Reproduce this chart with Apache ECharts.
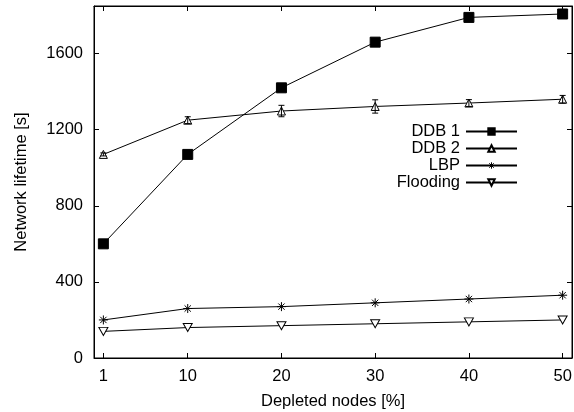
<!DOCTYPE html>
<html><head><meta charset="utf-8">
<script src="https://cdn.jsdelivr.net/npm/echarts@6/dist/echarts.min.js"></script>
<style>html,body{margin:0;padding:0;background:#fff}#c{width:574px;height:412px}</style>
</head><body><div id="c"></div>
<script>
var xValues = [1, 10, 20, 30, 40, 50];
var xTicks = [1, 10, 20, 30, 40, 50];
var yTicks = [0, 400, 800, 1200, 1600];
var ddb1 = [600, 1070, 1420, 1660, 1790, 1808];
var ddb2 = [1070, 1250, 1298, 1322, 1340, 1360];
var ddb2Err = [8, 18, 30, 35, 18, 20];
var lbp = [200, 260, 270, 290, 310, 330];
var flooding = [140, 160, 170, 180, 190, 200];

var FONT = 'Liberation Sans';
var FS = 16.5;
function pairs(ys){ return xValues.map(function(x,i){ return [x, ys[i]]; }); }
var star = 'path://M0,5L10,5M5,0L5,10M1.5,1.5L8.5,8.5M8.5,1.5L1.5,8.5';
var downTri = 'path://M0,0L10,0L5,9Z';

var chart = echarts.init(document.getElementById('c'), null, {renderer:'canvas'});
var axisCommon = {
  axisLine:{show:true, onZero:false, lineStyle:{color:'#000', width:1}},
  splitLine:{show:false}
};
function lineSeries(name, ys, symbol, size, fill){
  return {
    name:name, type:'line', data:pairs(ys), symbol:symbol, symbolSize:size,
    lineStyle:{color:'#000', width:1}, itemStyle:{color:fill, borderColor:'#000', borderWidth:1},
    animation:false, z:3
  };
}
var errData = xValues.map(function(x,i){ return [x, ddb2[i]-ddb2Err[i], ddb2[i]+ddb2Err[i]]; });
chart.setOption({
  animation:false,
  textStyle:{fontFamily:FONT},
  grid:{left:94, right:2, top:6, bottom:54, show:true, borderColor:'#000', borderWidth:1,
        containLabel:false, outerBoundsMode:'none'},
  legend:{
    orient:'vertical', right:51, top:118, align:'right', itemWidth:51, itemHeight:8, itemGap:0,
    textStyle:{fontFamily:FONT, fontSize:FS, color:'#000', lineHeight:17, padding:[0,1,0,0]},
    data:[
      {name:'DDB 1'},
      {name:'DDB 2'},
      {name:'LBP', itemStyle:{color:'none', borderColor:'#000', borderWidth:1}},
      {name:'Flooding'}
    ]
  },
  xAxis:[
    Object.assign({type:'value', min:0, max:51, position:'bottom',
      name:'Depleted nodes [%]', nameLocation:'middle', nameGap:35,
      nameTextStyle:{fontFamily:FONT, fontSize:FS, color:'#000'},
      axisTick:{show:true, inside:true, length:5, customValues:xTicks, lineStyle:{color:'#000'}},
      axisLabel:{show:true, customValues:xTicks, margin:10, fontFamily:FONT, fontSize:FS, color:'#000'}
    }, axisCommon),
    Object.assign({type:'value', min:0, max:51, position:'top',
      axisTick:{show:true, inside:true, length:5, customValues:xTicks, lineStyle:{color:'#000'}},
      axisLabel:{show:false}
    }, axisCommon)
  ],
  yAxis:[
    Object.assign({type:'value', min:0, max:1850, position:'left',
      name:'Network lifetime [s]', nameLocation:'middle', nameGap:64,
      nameTextStyle:{fontFamily:FONT, fontSize:FS, color:'#000'},
      axisTick:{show:true, inside:true, length:5, customValues:yTicks, lineStyle:{color:'#000'}},
      axisLabel:{show:true, customValues:yTicks, margin:11, fontFamily:FONT, fontSize:FS, color:'#000',
        formatter:function(v){ return String(v); }}
    }, axisCommon),
    Object.assign({type:'value', min:0, max:1850, position:'right',
      axisTick:{show:true, inside:true, length:5, customValues:yTicks, lineStyle:{color:'#000'}},
      axisLabel:{show:false}
    }, axisCommon)
  ],
  series:[
    lineSeries('DDB 1', ddb1, 'rect', 10, '#000'),
    lineSeries('DDB 2', ddb2, 'triangle', 8, '#fff'),
    lineSeries('LBP', lbp, star, 9, 'none'),
    lineSeries('Flooding', flooding, downTri, [9,8], '#fff'),
    {
      type:'custom', name:'err', data:errData, z:4,
      encode:{x:0, y:[1,2]},
      renderItem:function(params, api){
        var x = api.value(0);
        var lo = api.coord([x, api.value(1)]);
        var hi = api.coord([x, api.value(2)]);
        var c = 3;
        return {type:'group', children:[
          {type:'line', shape:{x1:lo[0], y1:lo[1], x2:hi[0], y2:hi[1]}, style:{stroke:'#000', lineWidth:1}},
          {type:'line', shape:{x1:lo[0]-c, y1:lo[1], x2:lo[0]+c, y2:lo[1]}, style:{stroke:'#000', lineWidth:1}},
          {type:'line', shape:{x1:hi[0]-c, y1:hi[1], x2:hi[0]+c, y2:hi[1]}, style:{stroke:'#000', lineWidth:1}}
        ]};
      }
    }
  ]
});
</script></body></html>
